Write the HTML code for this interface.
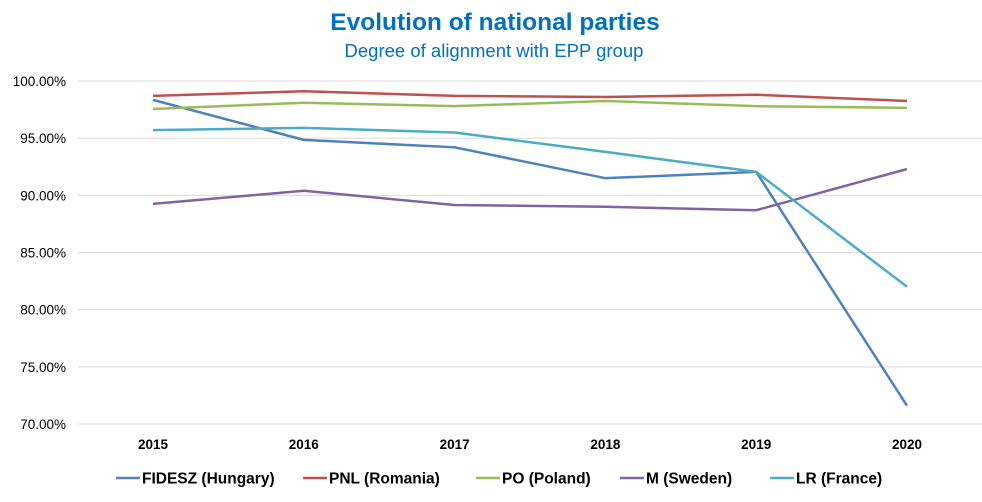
<!DOCTYPE html>
<html><head><meta charset="utf-8"><style>
body{margin:0;background:#fff;}
svg text{font-family:"Liberation Sans",Calibri,sans-serif;}
</style></head><body>
<svg id="chart" width="982" height="497" viewBox="0 0 982 497" xmlns="http://www.w3.org/2000/svg">
<rect width="982" height="497" fill="#fff"/>
<text x="495" y="30" text-anchor="middle" font-size="24.5" font-weight="bold" fill="#0070C0">Evolution of national parties</text>
<text x="494" y="57" text-anchor="middle" font-size="18.5" fill="#0070C0">Degree of alignment with EPP group</text>
<g id="grid"></g><g id="series"></g><g id="legend"></g>
</svg>
<script>
const categories=["2015","2016","2017","2018","2019","2020"];
const yTicks=[70,75,80,85,90,95,100];
const seriesNames=["FIDESZ (Hungary)","PNL (Romania)","PO (Poland)","M (Sweden)","LR (France)"];
const fidesz=[98.35,94.85,94.2,91.5,92.05,71.6];
const pnl=[98.7,99.1,98.7,98.6,98.8,98.25];
const po=[97.55,98.1,97.8,98.25,97.8,97.65];
const m=[89.25,90.4,89.15,89.0,88.7,92.3];
const lr=[95.7,95.9,95.5,93.8,92.05,82.0];
const colors=["#4F81BD","#C0504D","#9BBB59","#8064A2","#4BACC6"];
const allSeries=[fidesz,pnl,po,m,lr];
const NS="http://www.w3.org/2000/svg";
const x=i=>153+i*150.8;
const y=v=>424-(v-70)*(343/30);
function mk(t,a,p){const e=document.createElementNS(NS,t);for(const k in a)e.setAttribute(k,a[k]);p.appendChild(e);return e;}
const grid=document.getElementById('grid');
yTicks.forEach(v=>{
  const l=mk('line',{x1:78,x2:982,y1:y(v),y2:y(v),stroke:'#d9d9d9','stroke-width':1},grid);
  
  
  const t=mk('text',{x:66,y:y(v)+5,'text-anchor':'end','font-size':13.5,fill:'#000'},grid);
  t.textContent=v.toFixed(2)+'%';
  
  
});
categories.forEach((c,i)=>{
  const t=mk('text',{x:x(i),y:449,'text-anchor':'middle','font-size':13.5,'font-weight':'bold',fill:'#000'},grid);
  t.textContent=c;
  
  
});
const sg=document.getElementById('series');
allSeries.forEach((s,k)=>{
  const p=mk('polyline',{points:s.map((v,i)=>x(i)+','+y(v)).join(' '),fill:'none',stroke:colors[k],'stroke-width':2.5,'stroke-linejoin':'round'},sg);
  
  
});
const lg=document.getElementById('legend');
const lx=[116,303,476,620,770];
seriesNames.forEach((n,k)=>{
  const g=mk('g',{},lg);
  
  
  mk('line',{x1:lx[k],x2:lx[k]+24,y1:478,y2:478,stroke:colors[k],'stroke-width':2.5},g);
  const t=mk('text',{x:lx[k]+26,y:483.5,'font-size':15.5,'font-weight':'bold',fill:'#000'},g);
  t.textContent=n;
});
</script>
</body></html>
